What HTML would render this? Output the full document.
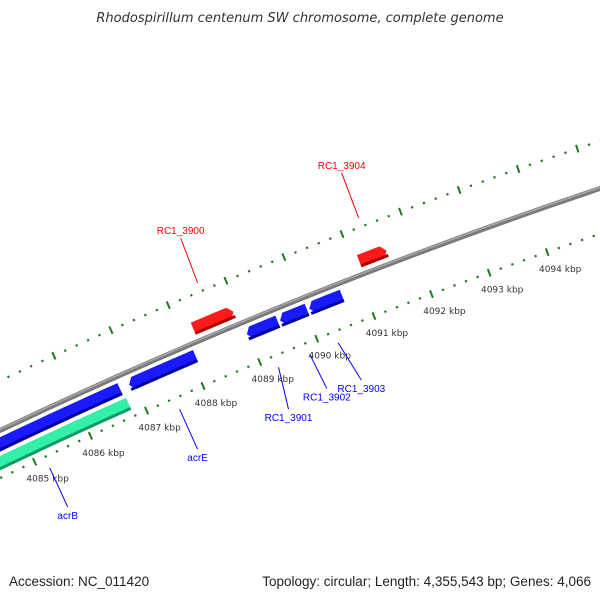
<!DOCTYPE html>
<html><head><meta charset="utf-8"><style>
html,body{margin:0;padding:0;background:#fff;width:600px;height:600px;overflow:hidden;}
svg{display:block;font-family:"Liberation Sans",sans-serif;overflow:hidden;}
</style></head><body>
<svg id="chart" width="600" height="600" viewBox="0 0 600 600" xmlns="http://www.w3.org/2000/svg">
<text x="300" y="22" text-anchor="middle" font-size="13" font-style="italic" fill="#333" style="font-family:'DejaVu Sans',sans-serif">Rhodospirillum centenum SW chromosome, complete genome</text>
<g id="map"></g>
<text x="9" y="586" font-size="13.5" fill="#222">Accession: NC_011420</text>
<text x="591" y="586" font-size="13.5" fill="#222" text-anchor="end">Topology: circular; Length: 4,355,543 bp; Genes: 4,066</text>
</svg>
<script>
const tickStartKbp = 4082;
const tickEndKbp = 4097;
const tickLabelKbp = [4085, 4086, 4087, 4088, 4089, 4090, 4091, 4092, 4093, 4094];
const geneNames = ["acrB", "acrB-rev", "acrE", "RC1_3900", "RC1_3901", "RC1_3902", "RC1_3903", "RC1_3904"];
const geneStart = [4083.3, 4083.0, 4086.91, 4088.22, 4088.98, 4089.56, 4090.07, 4091.1];
const geneEnd = [4086.78, 4086.75, 4088.08, 4088.92, 4089.52, 4090.03, 4090.64, 4091.57];
const geneStrand = [-1, -1, -1, 1, -1, -1, -1, 1];
const geneTrack = ["green", "rev", "rev", "fwd", "rev", "rev", "rev", "fwd"];
const geneLabeled = [true, false, true, true, true, true, true, true];
const geneLabelMid = [4085.18, 0, 4087.5, 4088.57, 4089.25, 4089.8, 4090.3, 4091.34];

// layout
const CX = 2324, CY = 5327, R = 5420;
const A0 = -115.2, DEG_PER_KBP = 0.656;
const NS = "http://www.w3.org/2000/svg";
const map = document.getElementById("map");
function ang(p){ return (A0 + (p - 4085) * DEG_PER_KBP) * Math.PI / 180; }
function pt(p, r){ const a = ang(p); return [CX + r * Math.cos(a), CY + r * Math.sin(a)]; }
function mk(tag, attrs){ const e = document.createElementNS(NS, tag); for (const k in attrs) e.setAttribute(k, attrs[k]); map.appendChild(e); return e; }
function arcPath(p1, p2, r){ const a = pt(p1, r), b = pt(p2, r); return "M" + a[0] + "," + a[1] + " A" + r + "," + r + " 0 0 1 " + b[0] + "," + b[1]; }

// backbone (drawn as visible arc only)
const bb1 = mk("path", {d: arcPath(4082, 4097, R), fill: "none", stroke: "#7a7a7a", "stroke-width": 5});


const bb2 = mk("path", {d: arcPath(4082, 4097, R + 1), fill: "none", stroke: "#a8a8a8", "stroke-width": 1.5});



// tick rings
const ringR = [R + 45, R - 43];
for (let ri = 0; ri < 2; ri++) {
  const rr = ringR[ri];
  for (let i = 0; i <= Math.round((tickEndKbp - tickStartKbp) * 5); i++) {
    const p = tickStartKbp + i * 0.2;
    const major = i % 5 === 0;
    const h = major ? 4 : 1.1;
    const a = pt(p, rr - h), b = pt(p, rr + h);
    const t = mk("line", {x1: a[0], y1: a[1], x2: b[0], y2: b[1], stroke: "#1f7a1f", "stroke-width": major ? 2 : 2.2});
    
    
  }
}
tickLabelKbp.forEach(k => {
  const q = pt(k, ringR[1]);
  const t = mk("text", {x: q[0] + 13, y: q[1] + 20, "font-size": 9, fill: "#333", "text-anchor": "middle", style: "font-family:'DejaVu Sans',sans-serif"});
  t.textContent = k + " kbp";
  
  
});

// genes
const trackR = {fwd: [R + 7, R + 20], rev: [R - 19, R - 6], green: [R - 36, R - 23]};
const trackCol = {fwd: ["#ff1a1a", "#b00000"], rev: ["#1a1aff", "#0000a0"], green: ["#33f0a8", "#159a66"]};
function arcPts(p1, p2, r){ const out = []; const n = Math.max(2, Math.ceil(Math.abs(p2 - p1) * 4)); for (let i = 0; i <= n; i++) out.push(pt(p1 + (p2 - p1) * i / n, r)); return out; }
function genePoly(s, e, r0, r1, strand, arrow){
  const ah = 0.08;
  let pts = [];
  if (!arrow) {
    pts = arcPts(s, e, r1).concat(arcPts(e, s, r0));
  } else if (strand > 0) {
    const mid = (r0 + r1) / 2;
    pts = arcPts(s, e - ah, r1).concat([pt(e, mid)]).concat(arcPts(e - ah, s, r0));
  } else {
    const mid = (r0 + r1) / 2;
    pts = [pt(s, mid)].concat(arcPts(s + ah, e, r1)).concat(arcPts(e, s + ah, r0));
  }
  return pts.map(q => q[0].toFixed(2) + "," + q[1].toFixed(2)).join(" ");
}
for (let i = 0; i < geneNames.length; i++) {
  const tr = trackR[geneTrack[i]], col = trackCol[geneTrack[i]];
  const arrow = geneTrack[i] !== "green" && !(geneTrack[i] === "rev" && geneStart[i] < 4084);
  const g = mk("polygon", {points: genePoly(geneStart[i], geneEnd[i], tr[0], tr[1], geneStrand[i], arrow), fill: col[0]});
  
  
  const g2 = mk("polygon", {points: genePoly(geneStart[i], geneEnd[i], tr[0], tr[0] + 3, geneStrand[i], false), fill: col[1]});
  
  
}

// labels
const labelVec = [[18, 39], [0, 0], [18, 40], [-17, -45], [10, 42], [17, 34], [23, 37], [-17, -45]];
for (let i = 0; i < geneNames.length; i++) {
  if (!geneLabeled[i]) continue;
  const fwd = geneStrand[i] > 0;
  const s = pt(geneLabelMid[i], fwd ? R + 54 : R - 55);
  const v = labelVec[i];
  const col = fwd ? "#ff0000" : "#0000ff";
  const l = mk("line", {x1: s[0], y1: s[1], x2: s[0] + v[0], y2: s[1] + v[1], stroke: col, "stroke-width": 1});
  
  
  const t = mk("text", {x: s[0] + v[0], y: fwd ? s[1] + v[1] - 4 : s[1] + v[1] + 12, "font-size": 10, fill: col, "text-anchor": "middle"});
  t.textContent = geneNames[i];
  
  
}
</script>
</body></html>
